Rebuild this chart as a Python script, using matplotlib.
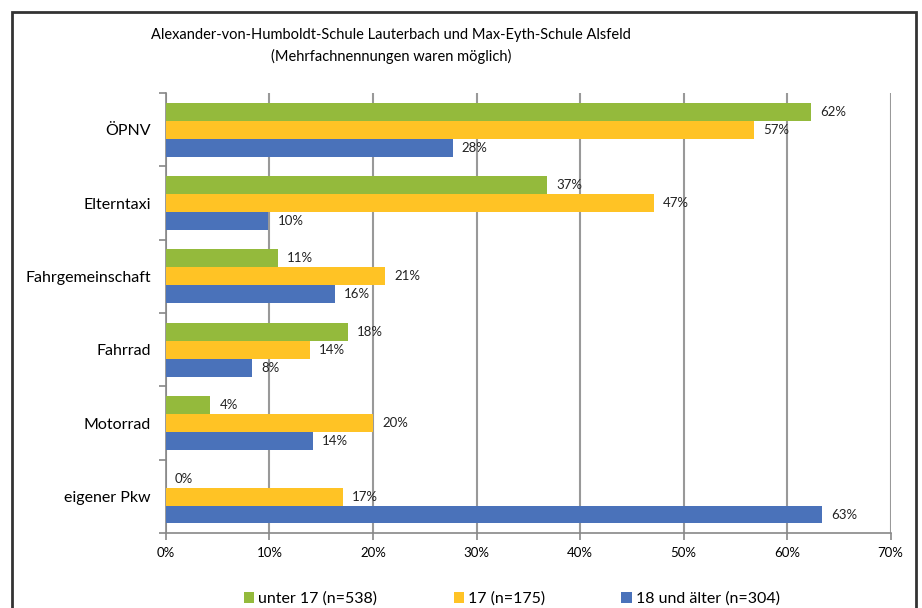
import matplotlib.pyplot as plt
from matplotlib.patches import Rectangle
import numpy as np

plt.rcParams['font.family'] = ['Lato', 'DejaVu Sans']

kategorien = ["ÖPNV", "Elterntaxi", "Fahrgemeinschaft", "Fahrrad", "Motorrad", "eigener Pkw"]
unter_17 = [62.3, 36.8, 10.8, 17.6, 4.3, 0.0]
alter_17 = [56.8, 47.1, 21.2, 13.9, 20.0, 17.1]
ab_18 = [27.7, 9.9, 16.3, 8.3, 14.2, 63.4]
serien = ["unter 17 (n=538)", "17 (n=175)", "18 und älter (n=304)"]
farben = ["#94BA3C", "#FFC325", "#4A72BA"]
x_ticks = [0, 10, 20, 30, 40, 50, 60, 70]

fig = plt.figure(figsize=(9.22, 6.08), dpi=100)
ax = fig.add_axes([0.180, 0.123, 0.786, 0.724])

# Rahmen um die ganze Grafik (unten abgeschnitten)
fig.patches.append(Rectangle((12 / 922, -0.05), (916 - 12) / 922, 1 - 12 / 608 + 0.05,
                             transform=fig.transFigure, fill=False,
                             edgecolor="#333333", linewidth=2, clip_on=False))

y = np.arange(len(kategorien))
h = 0.245
for k, (werte, name, farbe) in enumerate(zip([unter_17, alter_17, ab_18], serien, farben)):
    pos = y + (k - 1) * h
    ax.barh(pos, werte, height=h, color=farbe, label=name, zorder=3)
    for p, w in zip(pos, werte):
        ax.annotate(f"{w:.0f}%", (w, p), xytext=(6.5, 0), textcoords="offset points",
                    va="center", ha="left", fontsize=9.5, color="#222222", zorder=4)

ax.set_xlim(0, 70)
ax.set_ylim(5.5, -0.5)
ax.set_xticks(x_ticks)
ax.set_xticklabels([f"{t}%" for t in x_ticks], fontsize=9.5)
ax.set_yticks(y)
ax.set_yticklabels(kategorien, fontsize=11.5)
ax.set_yticks(np.arange(-0.5, 6, 1), minor=True)
ax.tick_params(axis="y", which="major", length=0, pad=11)
ax.tick_params(axis="y", which="minor", length=5, color="#888888", width=1.2)
ax.tick_params(axis="x", length=5, color="#888888", width=1.2, pad=5)

ax.grid(axis="x", color="#999999", linewidth=1.5, zorder=0)
for s in ["top", "right"]:
    ax.spines[s].set_visible(False)
for s in ["left", "bottom"]:
    ax.spines[s].set_color("#888888")
    ax.spines[s].set_linewidth(1.2)

fig.text(0.424, 0.943, "Alexander-von-Humboldt-Schule Lauterbach und Max-Eyth-Schule Alsfeld",
         ha="center", va="center", fontsize=10.5)
fig.text(0.424, 0.907, "(Mehrfachnennungen waren möglich)", ha="center", va="center", fontsize=10.5)

fig.legend(loc="center", bbox_to_anchor=(0.555, 0.015), ncol=3, frameon=False,
           fontsize=11.5, handlelength=0.63, handleheight=0.63, handletextpad=0.25,
           columnspacing=4.8, borderpad=0)

fig.savefig("out.png", dpi=100)
